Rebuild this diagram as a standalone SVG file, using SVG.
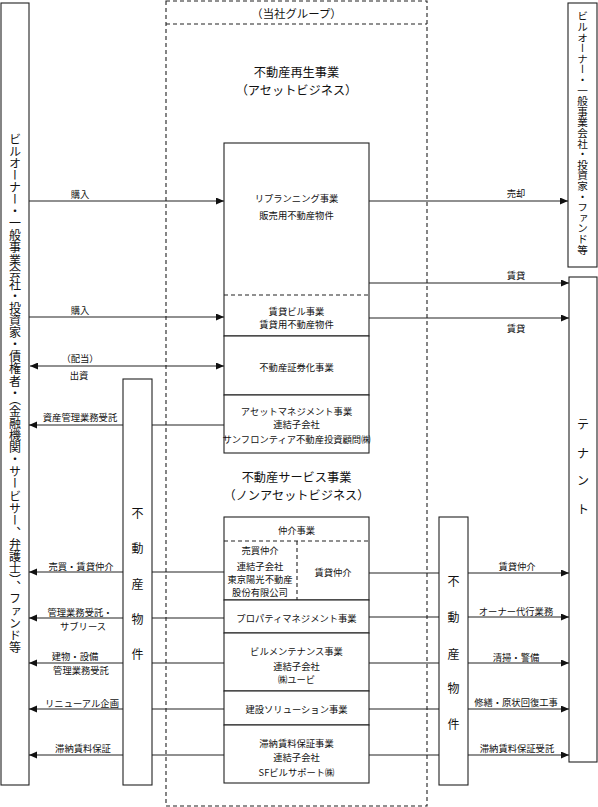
<svg xmlns="http://www.w3.org/2000/svg" width="598" height="807" viewBox="0 0 598 807">
<style>
text { font-family: "Noto Sans CJK JP", "Noto Sans CJK SC", sans-serif; fill: #111; dominant-baseline: central; text-anchor: middle; }
.s { font-size: 9.3px; }
.h { font-size: 12.2px; }
.g { font-size: 11.4px; }
.v { font-size: 12px; }
.vt { writing-mode: vertical-rl; text-anchor: start; dominant-baseline: central; }
.box { fill: #fff; stroke: #222; stroke-width: 1.1; }
.dash { fill: none; stroke: #222; stroke-width: 1.1; stroke-dasharray: 4 3; }
.ln { fill: none; stroke: #222; stroke-width: 1.1; }
.ar { marker-end: url(#ah); }
</style>
<defs>
<marker id="ah" markerUnits="userSpaceOnUse" markerWidth="9" markerHeight="8" refX="8" refY="3.5" orient="auto">
<path d="M0,0 L8,3.5 L0,7 z" fill="#111"/>
</marker>
<marker id="ahs" markerUnits="userSpaceOnUse" markerWidth="9" markerHeight="8" refX="0" refY="3.5" orient="auto">
<path d="M8,0 L0,3.5 L8,7 z" fill="#111"/>
</marker>
</defs>
<rect width="598" height="807" fill="#fff"/>

<g id="group-frame">
<rect class="dash" x="166" y="1" width="261" height="805"/>
<line class="dash" x1="166" y1="24" x2="427" y2="24"/>
<text class="g" x="296.5" y="13">（当社グループ）</text>
<text class="h" x="296.5" y="72">不動産再生事業</text>
<text class="h" x="296.5" y="90">（アセットビジネス）</text>
<text class="h" x="296.5" y="477">不動産サービス事業</text>
<text class="h" x="296.5" y="495">（ノンアセットビジネス）</text>
</g>

<g id="connectors">
<line class="ln ar" x1="29" y1="201" x2="224" y2="201"/>
<line class="ln ar" x1="369" y1="201" x2="568" y2="201"/>
<line class="ln ar" x1="369" y1="283" x2="569" y2="283"/>
<line class="ln ar" x1="29" y1="317" x2="224" y2="317"/>
<line class="ln ar" x1="369" y1="318" x2="569" y2="318"/>
<line class="ln ar" x1="30" y1="366" x2="224" y2="366" marker-start="url(#ahs)"/>
<line class="ln ar" x1="224" y1="425" x2="29" y2="425"/>
<line class="ln ar" x1="224" y1="572" x2="29" y2="572"/>
<line class="ln ar" x1="224" y1="618" x2="29" y2="618"/>
<line class="ln ar" x1="224" y1="663" x2="29" y2="663"/>
<line class="ln ar" x1="224" y1="709" x2="29" y2="709"/>
<line class="ln ar" x1="224" y1="755" x2="29" y2="755"/>
<line class="ln ar" x1="369" y1="573" x2="569" y2="573"/>
<line class="ln ar" x1="369" y1="617" x2="569" y2="617"/>
<line class="ln ar" x1="369" y1="663" x2="569" y2="663"/>
<line class="ln ar" x1="369" y1="709" x2="569" y2="709"/>
<line class="ln ar" x1="369" y1="755" x2="569" y2="755"/>
<text class="s" x="80" y="194">購入</text>
<text class="s" x="516" y="193">売却</text>
<text class="s" x="516" y="275">賃貸</text>
<text class="s" x="80" y="310">購入</text>
<text class="s" x="516" y="328">賃貸</text>
<text class="s" x="80" y="358">（配当）</text>
<text class="s" x="79" y="375">出資</text>
<text class="s" x="80" y="417">資産管理業務受託</text>
<text class="s" x="81" y="566">売買・賃貸仲介</text>
<text class="s" x="80" y="612">管理業務受託・</text>
<text class="s" x="83" y="626">サブリース</text>
<text class="s" x="75" y="656">建物・設備</text>
<text class="s" x="81" y="670">管理業務受託</text>
<text class="s" x="82" y="703">リニューアル企画</text>
<text class="s" x="83" y="748">滞納賃料保証</text>
<text class="s" x="517" y="566">賃貸仲介</text>
<text class="s" x="516" y="611">オーナー代行業務</text>
<text class="s" x="516" y="657">清掃・警備</text>
<text class="s" x="516" y="702">修繕・原状回復工事</text>
<text class="s" x="517" y="748">滞納賃料保証受託</text>
</g>

<g id="left-parties">
<rect class="box" x="1" y="3" width="28" height="782"/>
<text class="v vt" x="15" y="133" font-size="11.6" letter-spacing="0.1">ビルオーナー・一般事業会社・投資家・債権者・（金融機関・サービサー、弁護士）、ファンド等</text>
</g>

<g id="right-buyers">
<rect class="box" x="568" y="3" width="29" height="264"/>
<text class="vt" x="582.5" y="11" font-size="10.6">ビルオーナー・一般事業会社・投資家・ファンド等</text>
</g>

<g id="tenant">
<rect class="box" x="569" y="277" width="28" height="485"/>
<text class="v" x="583" y="423" font-size="10.5">テ</text>
<text class="v" x="583" y="452" font-size="10.5">ナ</text>
<text class="v" x="583" y="479" font-size="10.5">ン</text>
<text class="v" x="583" y="508" font-size="10.5">ト</text>
</g>

<g id="property-left">
<rect class="box" x="123" y="379" width="29" height="406"/>
<text class="v" x="137.5" y="512">不</text>
<text class="v" x="137.5" y="547">動</text>
<text class="v" x="137.5" y="583">産</text>
<text class="v" x="137.5" y="618">物</text>
<text class="v" x="137.5" y="653">件</text>
</g>

<g id="property-right">
<rect class="box" x="439" y="517" width="29" height="268"/>
<text class="v" x="453.5" y="580">不</text>
<text class="v" x="453.5" y="616">動</text>
<text class="v" x="453.5" y="653">産</text>
<text class="v" x="453.5" y="687">物</text>
<text class="v" x="453.5" y="723">件</text>
</g>

<g id="replanning">
<rect class="box" x="224" y="143" width="145" height="193"/>
<line class="dash" x1="224" y1="295" x2="369" y2="295"/>
<text class="s" x="296.5" y="198">リプランニング事業</text>
<text class="s" x="296.5" y="215">販売用不動産物件</text>
<text class="s" x="296.5" y="311">賃貸ビル事業</text>
<text class="s" x="296.5" y="324">賃貸用不動産物件</text>
</g>

<g id="securitization">
<rect class="box" x="224" y="336" width="145" height="59"/>
<text class="s" x="296.5" y="367">不動産証券化事業</text>
</g>

<g id="asset-management">
<rect class="box" x="224" y="395" width="145" height="58"/>
<text class="s" x="296.5" y="411">アセットマネジメント事業</text>
<text class="s" x="296.5" y="424">連結子会社</text>
<text class="s" x="296.5" y="439">サンフロンティア不動産投資顧問㈱</text>
</g>

<g id="brokerage">
<rect class="box" x="224" y="517" width="145" height="83"/>
<line class="dash" x1="224" y1="541" x2="369" y2="541"/>
<line class="dash" x1="297" y1="541" x2="297" y2="600"/>
<text class="s" x="296.5" y="530">仲介事業</text>
<text class="s" x="260" y="550">売買仲介</text>
<text class="s" x="260" y="566">連結子会社</text>
<text class="s" x="260" y="579">東京陽光不動産</text>
<text class="s" x="260" y="592">股份有限公司</text>
<text class="s" x="333" y="572">賃貸仲介</text>
</g>

<g id="property-management">
<rect class="box" x="224" y="600" width="145" height="33"/>
<text class="s" x="296.5" y="618">プロパティマネジメント事業</text>
</g>

<g id="building-maintenance">
<rect class="box" x="224" y="633" width="145" height="58"/>
<text class="s" x="296.5" y="651">ビルメンテナンス事業</text>
<text class="s" x="296.5" y="666">連結子会社</text>
<text class="s" x="296.5" y="679">㈱ユービ</text>
</g>

<g id="construction">
<rect class="box" x="224" y="691" width="145" height="34"/>
<text class="s" x="296.5" y="709">建設ソリューション事業</text>
</g>

<g id="rent-guarantee">
<rect class="box" x="224" y="725" width="145" height="58"/>
<text class="s" x="296.5" y="743">滞納賃料保証事業</text>
<text class="s" x="296.5" y="757">連結子会社</text>
<text class="s" x="296.5" y="772">SFビルサポート㈱</text>
</g>
</svg>
